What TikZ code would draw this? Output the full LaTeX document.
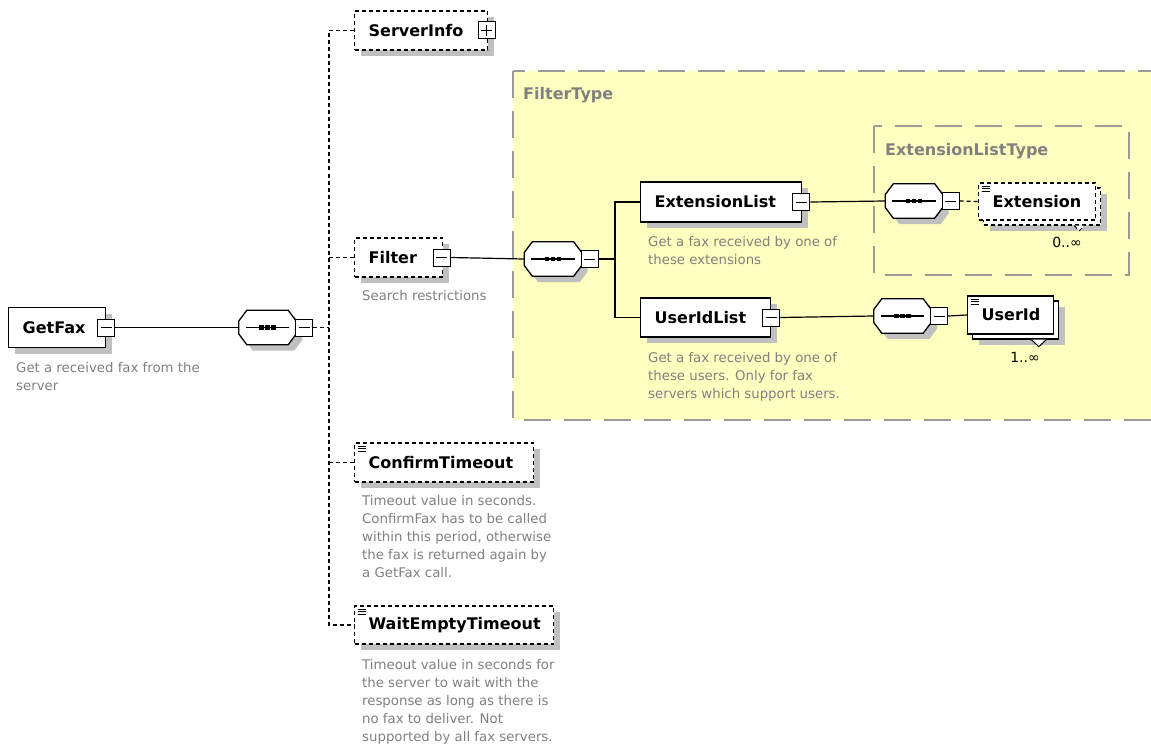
\documentclass[tikz,border=0pt]{standalone}
\usepackage{fontspec}
\setmainfont{DejaVu Sans}
\usetikzlibrary{shadows,calc}

\definecolor{typefill}{RGB}{255,255,192}
\definecolor{typeline}{RGB}{155,155,155}
\definecolor{shadowgray}{RGB}{192,192,192}
\definecolor{doctext}{RGB}{128,128,128}

\newcommand\octagon[1]{([yshift=6.5pt]#1.west) -- ([xshift=8pt]#1.north west) -- ([xshift=-8pt]#1.north east)
	-- ([yshift=6.5pt]#1.east) -- ([yshift=-6.5pt]#1.east) -- ([xshift=-8pt]#1.south east)
	-- ([xshift=8pt]#1.south west) -- ([yshift=-6.5pt]#1.west) -- cycle}

\begin{document}
\begin{tikzpicture}[x=1pt, y=-1pt,
	box/.style={draw, fill=white, line width=1.3pt, minimum height=39pt, anchor=west,
		text width=#1, align=left, inner xsep=0pt, inner ysep=0pt,
		execute at begin node={\hspace*{14pt}}, font=\fontsize{16}{19}\selectfont\bfseries},
	elem/.style={drop shadow={shadow xshift=6pt, shadow yshift=-6pt, opacity=1, fill=shadowgray, draw=none}, box=#1},
	manyelem/.style={drop shadow={shadow xshift=11pt, shadow yshift=-11pt, opacity=1, fill=shadowgray, draw=none},
		copy shadow={shadow xshift=5pt, shadow yshift=-5pt}, box=#1},
	opt/.style={dash pattern=on 4pt off 3pt},
	link/.style={line width=1.2pt},
	typebox/.style={draw=typeline, line width=1.8pt, dash pattern=on 27pt off 13pt}]
	\tikzset{
		simple/.style={path picture={\foreach \dy in {3,5.5,8}
			\draw[solid, line width=0.8pt] ([xshift=3pt, yshift=-\dy*1pt]path picture bounding box.north west) -- +(8pt,0pt);}},
		sign/.style={draw, fill=white, solid, line width=1pt, minimum width=17pt, minimum height=17pt, inner sep=0pt},
		minus/.style={sign, path picture={\draw[line width=1pt] ([xshift=3pt]path picture bounding box.west) -- ([xshift=-3pt]path picture bounding box.east);}},
		plus/.style={sign, path picture={\draw[line width=1pt] ([xshift=3pt]path picture bounding box.west) -- ([xshift=-3pt]path picture bounding box.east);
			\draw[line width=1pt] ([yshift=3pt]path picture bounding box.south) -- ([yshift=-3pt]path picture bounding box.north);}},
		seq/.style={minimum width=57pt, minimum height=34pt, inner sep=0pt},
		seqline/.style={draw, fill=white, line width=1.3pt},
		doc/.style={anchor=north west, align=left, inner sep=0pt, text=doctext, font=\fontsize{13.3}{18}\selectfont},
		title/.style={anchor=base west, inner sep=0pt, text=doctext, font=\fontsize{16}{19}\selectfont\bfseries},
		occurs/.style={inner sep=0pt, font=\fontsize{14}{16}\selectfont},
		notch/.style={draw, fill=white, line width=1pt}}
	\useasboundingbox (0,0) rectangle (1151,749);

	\draw[typebox, fill=typefill] (513,71) rectangle (1170,420);
	\draw[typebox] (874,126) rectangle (1129,275);
	\node[title] (filtertype) at (523,100) {FilterType};
	\node[title] (extlisttype) at (885,155) {ExtensionListType};

	\node[seq] (seqa) at (267.5,327.5) {};
	\node[seq] (seqb) at (553,259) {};
	\node[seq] (seqc) at (914,201) {};
	\node[seq] (seqd) at (902.5,316) {};
	\foreach \s in {seqa,seqb,seqc,seqd} {
		\fill[shadowgray, transform canvas={shift={(6pt,-6pt)}}] \octagon{\s};
		\draw[seqline] \octagon{\s};
		\draw[line width=1.1pt] ([xshift=7pt]\s.west) -- ([xshift=-7pt]\s.east);
		\foreach \dx in {-6,0,6}
			\fill ([xshift=\dx*1pt]\s.center) +(-2.3pt,-2.3pt) rectangle +(2.3pt,2.3pt);
	}
	\node[minus, anchor=west] (seqam) at ([xshift=-1pt]seqa.east) {};
	\node[minus, anchor=west] (seqbm) at ([xshift=-1pt]seqb.east) {};
	\node[minus, anchor=west] (seqcm) at ([xshift=-1pt]seqc.east) {};
	\node[minus, anchor=west] (seqdm) at ([xshift=-1pt]seqd.east) {};

	\node[elem=97pt, minimum height=40pt] (getfax) at (8,327.5) {GetFax};
	\node[minus] (getfaxm) at (getfax.east) {};

	\node[elem=133pt, opt] (serverinfo) at (354,30.5) {ServerInfo};
	\node[plus] (serverinfop) at ([xshift=-1.5pt]serverinfo.east) {};
	\node[elem=88pt, opt] (filter) at (354,257.5) {Filter};
	\node[minus] (filterm) at ([xshift=-1.5pt]filter.east) {};
	\node[elem=179pt, opt, simple] (confirm) at (354,462.5) {ConfirmTimeout};
	\node[elem=199pt, opt, simple, minimum height=38pt] (waitempty) at (354,625) {WaitEmptyTimeout};

	\node[elem=161pt, minimum height=40pt] (extlist) at (640,202) {ExtensionList};
	\node[minus] (extlistm) at ([xshift=-1pt]extlist.east) {};
	\node[elem=130pt] (useridlist) at (640,317.5) {UserIdList};
	\node[minus] (useridlistm) at (useridlist.east) {};

	\node[manyelem=117pt, opt, simple, minimum height=37pt] (extension) at (978,201.5) {Extension};
	\node[manyelem=86pt, simple, minimum height=38pt] (userid) at (967,315) {UserId};

	\draw[notch, opt] ($(extension.south east)+(-22,5)$) -- ++(5,5) -- ++(5,-5);
	\draw[notch] ($(userid.south east)+(-23,5)$) -- ++(7.5,7) -- ++(7.5,-7);
	\node[occurs] (extensionocc) at (1067,242) {0..∞};
	\node[occurs] (useridocc) at (1025,357) {1..∞};

	\node[doc] (getfaxdoc) at (16,362) {Get a received fax from the\\server};
	\node[doc] (filterdoc) at (362,290) {Search restrictions};
	\node[doc] (extlistdoc) at (648,236) {Get a fax received by one of\\these extensions};
	\node[doc] (useridlistdoc) at (648,352) {Get a fax received by one of\\these users. Only for fax\\servers which support users.};
	\node[doc] (confirmdoc) at (362,495) {Timeout value in seconds.\\ConfirmFax has to be called\\within this period, otherwise\\the fax is returned again by\\a GetFax call.};
	\node[doc] (waitemptydoc) at (362,659) {Timeout value in seconds for\\the server to wait with the\\response as long as there is\\no fax to deliver. Not\\supported by all fax servers.};

	\coordinate (busa) at (329,327.5);
	\coordinate (busb) at (615,259);
	\foreach \from/\to in {
		getfaxm/seqa, filterm/seqb,
		extlistm/seqc, useridlistm/seqd,
		seqdm/userid}
	\draw[link] (\from.east) -- (\to.west);
	\draw[link] (seqbm.east) -- (busb);
	\draw[link] (extlist.west) -| (busb) |- (useridlist.west);
	\draw[link, opt] (seqam.east) -- (busa);
	\draw[link, opt] (serverinfo.west) -| (busa) |- (waitempty.west);
	\draw[link, opt] (filter.west) -- (filter.west -| busa);
	\draw[link, opt] (confirm.west) -- (confirm.west -| busa);
	\draw[link, opt] (seqcm.east) -- (extension.west);
\end{tikzpicture}
\end{document}
